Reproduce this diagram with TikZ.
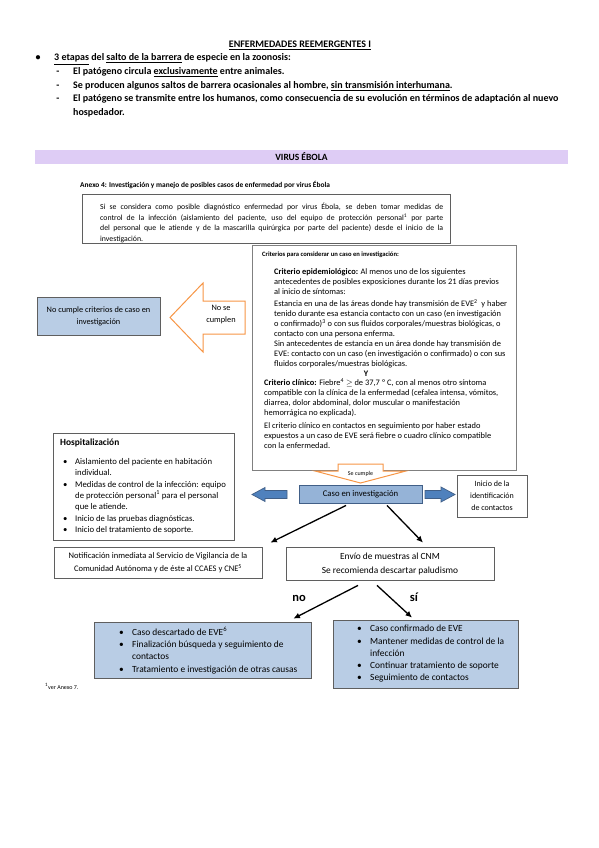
\documentclass[tikz,border=0pt]{standalone}
\usepackage{fontspec}
\setmainfont{Carlito}
\usepackage{tikz}
\usetikzlibrary{positioning,calc,arrows.meta}
\definecolor{bandlilac}{RGB}{222,204,245}
\definecolor{caseblue}{RGB}{149,179,215}
\definecolor{paleblue}{RGB}{185,205,229}
\definecolor{arrowblue}{RGB}{79,129,189}
\definecolor{edgeblue}{RGB}{65,95,135}
\definecolor{warnorange}{RGB}{247,150,70}
\definecolor{boxgray}{RGB}{95,95,95}
\newcommand{\bul}[1][12pt]{\makebox[#1][l]{\textbullet}}
\newcommand{\ind}[1][12pt]{\hspace*{#1}}
\tikzset{
    headtext/.style={font=\bfseries\fontsize{10}{12}\selectfont, inner sep=0pt},
    band/.style={rectangle, fill=bandlilac, minimum width=533pt, minimum height=14pt, inner sep=0pt, font=\bfseries\fontsize{9.5}{11}\selectfont},
    plainbox/.style={rectangle, draw=boxgray, fill=white, line width=0.8pt, inner sep=0pt},
    paleBox/.style={rectangle, draw=boxgray, fill=paleblue, line width=0.8pt, inner sep=0pt},
    caseBox/.style={rectangle, draw=edgeblue, fill=caseblue, line width=0.9pt, inner sep=0pt},
    bodytext/.style={font=\fontsize{8.4}{10}\selectfont, inner sep=0pt, align=left},
    listtext/.style={font=\fontsize{9.4}{12.2}\selectfont, inner sep=0pt, align=left},
    flow/.style={line width=1.3pt, -{Latex[length=6.5pt,width=6pt]}},
    orangeArrow/.style={draw=warnorange, fill=white, line width=1pt},
    blueArrow/.style={draw=edgeblue, fill=arrowblue, line width=0.7pt},
}

\begin{document}
\begin{tikzpicture}[x=1pt, y=-1pt]
    \path[fill=white] (0,0) rectangle (599,848);

    % heading
    \node[headtext, anchor=base] (title) at (300,47.5) {\underline{ENFERMEDADES REEMERGENTES I}};
    \node[headtext, anchor=base] (dot) at (38,61) {\textbullet};
    \node[headtext, anchor=base west] (stage) at (54,61) {\underline{3 etapas} del \underline{salto de la barrera} de especie en la zoonosis:};
    \foreach \yy in {75,89,102}
        \node[headtext, anchor=base] at (58,\yy) {-};
    \node[headtext, anchor=base west] (s1) at (73,75) {El patógeno circula \underline{exclusivamente} entre animales.};
    \node[headtext, anchor=base west] (s2) at (73,89) {Se producen algunos saltos de barrera ocasionales al hombre, \underline{sin transmisión interhumana}.};
    \node[headtext, anchor=base west] (s3) at (73,102) {El patógeno se transmite entre los humanos, como consecuencia de su evolución en términos de adaptación al nuevo};
    \node[headtext, anchor=base west] (s3b) at (73,116) {hospedador.};

    \node[band] (banner) at (301.5,157) {VIRUS ÉBOLA};
    \node[anchor=base west, inner sep=0pt, font=\bfseries\fontsize{7.4}{9}\selectfont] (annex) at (80,187) {Anexo 4: Investigación y manejo de posibles casos de enfermedad por virus Ébola};

    % first box
    \node[plainbox, minimum width=368pt, minimum height=49pt] (intro) at (266,218.5) {};
    \node[bodytext, font=\fontsize{7.8}{10.5}\selectfont, anchor=north west] (introtext) at (100,202.9) {%
        \makebox[343pt][s]{Si se considera como posible diagnóstico enfermedad por virus Ébola, se deben tomar medidas de}\\
        \makebox[343pt][s]{control de la infección (aislamiento del paciente, uso del equipo de protección personal\textsuperscript{1} por parte}\\
        \makebox[343pt][s]{del personal que le atiende y de la mascarilla quirúrgica por parte del paciente) desde el inicio de la}\\
        investigación.};

    % criteria
    \node[rectangle, draw=gray, fill=white, line width=1pt, minimum width=264pt, minimum height=225pt] (crit) at (384,357.5) {};
    \node[anchor=base west, inner sep=0pt, font=\bfseries\fontsize{6.6}{8}\selectfont] (crithead) at (262,256) {Criterios para considerar un caso en investigación:};
    \node[bodytext, anchor=north west] (epi) at (274,268.6) {%
        \textbf{Criterio epidemiológico:} Al menos uno de los siguientes\\
        antecedentes de posibles exposiciones durante los 21 días previos\\
        al inicio de síntomas:\\[1.5pt]
        Estancia en una de las áreas donde hay transmisión de EVE\textsuperscript{2}\ \ y haber\\
        tenido durante esa estancia contacto con un caso (en investigación\\
        o confirmado)\textsuperscript{3} o con sus fluidos corporales/muestras biológicas, o\\
        contacto con una persona enferma.\\
        Sin antecedentes de estancia en un área donde hay transmisión de\\
        EVE: contacto con un caso (en investigación o confirmado) o con sus\\
        fluidos corporales/muestras biológicas.};
    \node[bodytext, font=\bfseries\fontsize{8.4}{10}\selectfont] (andword) at (366,373.5) {Y};
    \node[bodytext, anchor=north west] (clin) at (264,378.6) {%
        \textbf{Criterio clínico:} Fiebre\textsuperscript{4} $\geq$ de 37,7 º C, con al menos otro síntoma\\
        compatible con la clínica de la enfermedad (cefalea intensa, vómitos,\\
        diarrea, dolor abdominal, dolor muscular o manifestación\\
        hemorrágica no explicada).\\[3.5pt]
        El criterio clínico en contactos en seguimiento por haber estado\\
        expuestos a un caso de EVE será fiebre o cuadro clínico compatible\\
        con la enfermedad.};

    % not met
    \node[paleBox, minimum width=123pt, minimum height=38pt, font=\fontsize{8.3}{12}\selectfont, align=center] (nocase) at (98.5,316) {No cumple criterios de caso en\\investigación};
    \draw[orangeArrow] (245,301) -- (203,301) -- (203,283) -- (170,317.5) -- (203,352) -- (203,334) -- (245,334) -- cycle;
    \node[font=\fontsize{8.3}{12}\selectfont, align=center] (nolabel) at (221,315) {No se\\cumplen};

    % hospital
    \node[plainbox, minimum width=181pt, minimum height=107pt] (hosp) at (143.5,486.5) {};
    \node[anchor=base west, inner sep=0pt, font=\bfseries\fontsize{9.4}{11}\selectfont] (hosptitle) at (60,445.5) {Hospitalización};
    \node[bodytext, font=\fontsize{8.7}{11}\selectfont, anchor=north west] (hosplist) at (63,458.5) {%
        \bul Aislamiento del paciente en habitación\\
        \ind individual.\\[0.8pt]
        \bul Medidas de control de la infección: equipo\\
        \ind de protección personal\textsuperscript{1} para el personal\\
        \ind que le atiende.\\[0.8pt]
        \bul Inicio de las pruebas diagnósticas.\\
        \bul Inicio del tratamiento de soporte.};

    % case under study
    \draw[orangeArrow] (338,464) -- (383,464) -- (383,471) -- (406,471) -- (360.5,483) -- (315,471) -- (338,471) -- cycle;
    \node[inner sep=0pt, font=\fontsize{6}{7}\selectfont] (yeslabel) at (360.5,474) {Se cumple};
    \node[caseBox, minimum width=123pt, minimum height=18pt, font=\fontsize{8.7}{10}\selectfont] (caso) at (360.5,494) {Caso en investigación};
    \draw[blueArrow] (287,490.5) -- (265,490.5) -- (265,487.5) -- (252,494.5) -- (265,501.5) -- (265,498.5) -- (287,498.5) -- cycle;
    \draw[blueArrow] (425,490.5) -- (441,490.5) -- (441,487) -- (455,494.5) -- (441,502) -- (441,498.5) -- (425,498.5) -- cycle;
    \node[plainbox, minimum width=70pt, minimum height=42pt, font=\fontsize{8}{12}\selectfont, align=center] (contact) at (492,496) {Inicio de la\\identificación\\de contactos};

    % next steps
    \node[plainbox, minimum width=208pt, minimum height=31pt, font=\fontsize{8.5}{13}\selectfont, align=center] (notif) at (158,562.5) {Notificación inmediata al Servicio de Vigilancia de la\\Comunidad Autónoma y de éste al CCAES y CNE\textsuperscript{5}};
    \node[plainbox, minimum width=208pt, minimum height=33pt, font=\fontsize{9.4}{14}\selectfont, align=center] (envio) at (390,563.5) {Envío de muestras al CNM\\Se recomienda descartar paludismo};
    \draw[flow] ([xshift=-14.5pt,yshift=-2pt]caso.south) -- ([xshift=8pt,yshift=4pt]notif.north east);
    \draw[flow] ([xshift=26.5pt,yshift=-2pt]caso.south) -- ([xshift=33pt,yshift=4pt]envio.north);

    % results
    \node[paleBox, minimum width=217pt, minimum height=56pt] (descart) at (202.5,650) {};
    \node[listtext, anchor=north west] (descartlist) at (119,627) {%
        \bul[13pt]Caso descartado de EVE\textsuperscript{6}\\
        \bul[13pt]Finalización búsqueda y seguimiento de\\
        \ind[13pt]contactos\\
        \bul[13pt]Tratamiento e investigación de otras causas};
    \node[paleBox, minimum width=185pt, minimum height=68pt] (confirm) at (425.5,654) {};
    \node[listtext, anchor=north west] (confirmlist) at (357,625.2) {%
        \bul[13pt]Caso confirmado de EVE\\
        \bul[13pt]Mantener medidas de control de la\\
        \ind[13pt]infección\\
        \bul[13pt]Continuar tratamiento de soporte\\
        \bul[13pt]Seguimiento de contactos};
    \draw[flow] ([xshift=-32pt,yshift=-5pt]envio.south) -- ([xshift=-18pt,yshift=3pt]descart.north east);
    \draw[flow] ([xshift=-13pt,yshift=-5pt]envio.south) -- ([xshift=-13.5pt,yshift=2pt]confirm.north);
    \node[inner sep=0pt, font=\bfseries\fontsize{12.5}{14}\selectfont] (nolab) at (299,598) {no};
    \node[inner sep=0pt, font=\bfseries\fontsize{12.5}{14}\selectfont] (silab) at (414,597) {sí};

    \node[anchor=base west, inner sep=0pt, font=\fontsize{6}{7}\selectfont] (footnote) at (45,689) {\textsuperscript{1}ver Anexo 7.};
\end{tikzpicture}
\end{document}
